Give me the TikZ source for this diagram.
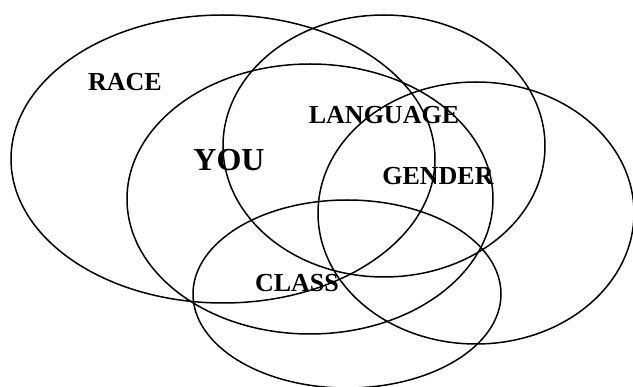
\documentclass[tikz,border=0pt]{standalone}
\usepackage{fontspec}
\setmainfont{Liberation Serif}
\usetikzlibrary{shapes.geometric}

\begin{document}
\begin{tikzpicture}[
  x=1pt, y=-1pt,
  ring/.style={draw, ellipse, line width=1.5pt, inner sep=0pt},
  lbl/.style={font=\bfseries\fontsize{26}{28}\selectfont, inner sep=0pt},
  big/.style={lbl, font=\bfseries\fontsize{32}{34}\selectfont}
]
  \useasboundingbox (0,0) rectangle (633,387);

  % ellipses
  \node[ring, minimum width=424pt, minimum height=288pt] (race) at (223,159) {};
  \node[ring, minimum width=322pt, minimum height=262pt] (lang) at (384,146) {};
  \node[ring, minimum width=366pt, minimum height=270pt] (you)  at (310,199) {};
  \node[ring, minimum width=316pt, minimum height=262pt] (gend) at (476,213) {};
  \node[ring, minimum width=308pt, minimum height=188pt] (class) at (347,294) {};

  % labels
  \node[lbl] (racet)  at (125,82)  {RACE};
  \node[big] (yout)   at (229,160) {YOU};
  \node[lbl] (langt)  at (384,115) {LANGUAGE};
  \node[lbl] (gendt)  at (438,176) {GENDER};
  \node[lbl] (classt) at (297,283) {CLASS};
\end{tikzpicture}
\end{document}
